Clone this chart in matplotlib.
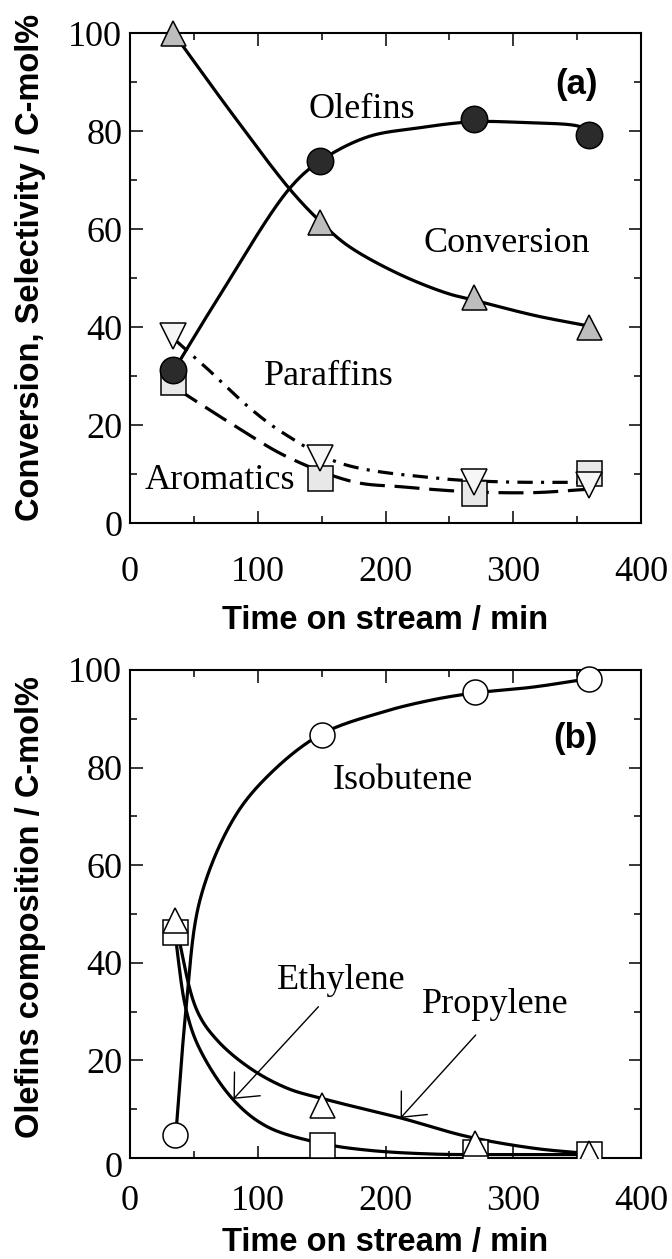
import numpy as np
import matplotlib
matplotlib.use("Agg")
import matplotlib.pyplot as plt
from matplotlib.ticker import MultipleLocator
from matplotlib.transforms import ScaledTranslation

plt.rcParams['font.family'] = ['Liberation Serif', 'DejaVu Serif']
plt.rcParams['lines.scale_dashes'] = False

# ---------------- Panel (a) data ----------------
time_a = [34, 149, 269, 359]
conversion = [100.0, 61.5, 46.2, 40.0]
olefins = [31.2, 73.9, 82.4, 79.2]
paraffins = [38.1, 13.3, 8.4, 7.8]
aromatics = [28.8, 9.2, 6.1, 10.3]

# trend lines
olefins_fit_t = [34.5, 68, 125, 149, 186, 225, 269, 310, 347, 359]
olefins_fit_v = [31.2, 45.5, 68.3, 73.9, 78.8, 80.6, 81.9, 81.7, 81.2, 80.4]
conversion_fit_t = [34, 80, 125.5, 149, 170, 209, 248, 269, 316, 359]
conversion_fit_v = [100, 83.5, 68, 61.5, 56.7, 51, 46.9, 45.5, 42.4, 40.2]
paraffins_fit_t = [36, 58.8, 95.4, 120.3, 164.7, 238, 290, 359]
paraffins_fit_v = [37.2, 31.9, 23.1, 18.3, 12.2, 9.2, 8.4, 8.3]
aromatics_fit_t = [36, 81, 123, 175, 212, 264, 316, 359]
aromatics_fit_v = [27.5, 20, 13.5, 8.4, 7.4, 6.4, 6.2, 6.9]

# ---------------- Panel (b) data ----------------
time_b = [35, 150, 270, 359]
isobutene = [4.7, 86.7, 95.4, 98.1]
ethylene = [46.4, 2.7, 1.3, 0.8]
propylene = [48.8, 10.9, 3.0, 1.0]

isobutene_fit_t = [36.6, 43.8, 54.8, 80.6, 107.2, 148.7, 198, 237, 270, 315.5, 358.5]
isobutene_fit_v = [7.2, 30.3, 52.9, 69.3, 78.1, 86.7, 91.4, 93.9, 95.3, 96.5, 98.2]
ethylene_fit_t = [35, 44, 55, 81, 107.5, 150, 186, 238, 300, 359]
ethylene_fit_v = [46.4, 30.3, 22.1, 11.9, 6.4, 3.0, 1.6, 0.8, 0.7, 0.7]
propylene_fit_t = [35, 52.3, 68, 94, 123, 150, 212, 264, 316, 359]
propylene_fit_v = [48.8, 30.3, 24.2, 18.4, 14.3, 12.2, 8.2, 4.4, 2.0, 0.9]

x_ticks = [0, 100, 200, 300, 400]
y_ticks = [0, 20, 40, 60, 80, 100]

# pixel scale of one data unit (used only to make the spline centripetal on screen)
SX, SY = 511 / 400, 489 / 100


def smooth(xs, ys, n=60):
    """Centripetal Catmull-Rom rendering of a trend line through read points."""
    P = np.column_stack([np.asarray(xs, float) * SX, np.asarray(ys, float) * SY])
    P = np.vstack([2 * P[0] - P[1], P, 2 * P[-1] - P[-2]])
    out = []
    for i in range(1, len(P) - 2):
        p0, p1, p2, p3 = P[i - 1], P[i], P[i + 1], P[i + 2]
        t0 = 0.0
        t1 = t0 + np.linalg.norm(p1 - p0) ** 0.5
        t2 = t1 + np.linalg.norm(p2 - p1) ** 0.5
        t3 = t2 + np.linalg.norm(p3 - p2) ** 0.5
        t = np.linspace(t1, t2, n)[:, None]
        A1 = (t1 - t) / (t1 - t0) * p0 + (t - t0) / (t1 - t0) * p1
        A2 = (t2 - t) / (t2 - t1) * p1 + (t - t1) / (t2 - t1) * p2
        A3 = (t3 - t) / (t3 - t2) * p2 + (t - t2) / (t3 - t2) * p3
        B1 = (t2 - t) / (t2 - t0) * A1 + (t - t0) / (t2 - t0) * A2
        B2 = (t3 - t) / (t3 - t1) * A2 + (t - t1) / (t3 - t1) * A3
        C = (t2 - t) / (t2 - t1) * B1 + (t - t1) / (t2 - t1) * B2
        out.append(C if i == 1 else C[1:])
    C = np.vstack(out)
    return C[:, 0] / SX, C[:, 1] / SY


fig = plt.figure(figsize=(6.72, 12.59), dpi=100)
ax1 = fig.add_axes([130 / 672, 1 - 523 / 1259, 511 / 672, 490 / 1259])
ax2 = fig.add_axes([130 / 672, 1 - 1158 / 1259, 511 / 672, 488 / 1259])

TICK_FS = 26
ANN_FS = 26
LAB_FS = 23.5
LW = 2.3
MEW = 1.1
SANS = ['Liberation Sans', 'DejaVu Sans']

for ax in (ax1, ax2):
    ax.set_xlim(0, 400)
    ax.set_ylim(0, 100)
    ax.set_xticks(x_ticks)
    ax.set_yticks(y_ticks)
    ax.xaxis.set_minor_locator(MultipleLocator(50))
    ax.yaxis.set_minor_locator(MultipleLocator(10))
    ax.tick_params(which='both', direction='in', top=True, right=True,
                   width=1.1, labelsize=TICK_FS)
    ax.tick_params(which='major', length=9)
    ax.tick_params(which='minor', length=5)
    ax.tick_params(axis='y', pad=5.5)
    for s in ax.spines.values():
        s.set_linewidth(1.5)
    ax.set_xlabel('Time on stream / min', fontsize=LAB_FS, fontweight='bold', family=SANS)

ax1.tick_params(axis='x', pad=24)
ax2.tick_params(axis='x', pad=19.5)

ax1.set_ylabel('Conversion, Selectivity / C-mol%', fontsize=LAB_FS, fontweight='bold',
               family=SANS)
ax2.set_ylabel('Olefins composition / C-mol%', fontsize=LAB_FS, fontweight='bold',
               family=SANS)
ax1.yaxis.set_label_coords(-0.165, 0.522)
ax2.yaxis.set_label_coords(-0.165, 0.514)
ax1.xaxis.set_label_coords(0.5, -0.168)
ax2.xaxis.set_label_coords(0.5, -0.142)

# ---------------- Panel (a) ----------------
ax1.plot(*smooth(olefins_fit_t, olefins_fit_v), color='black', lw=LW, zorder=2)
ax1.plot(*smooth(conversion_fit_t, conversion_fit_v), color='black', lw=LW, zorder=2)
ax1.plot(*smooth(paraffins_fit_t, paraffins_fit_v), color='black', lw=LW, zorder=2,
         dashes=(11, 6, 2.2, 6))
ax1.plot(*smooth(aromatics_fit_t, aromatics_fit_v), color='black', lw=LW, zorder=2,
         dashes=(18, 7))

ax1.plot(time_a, aromatics, ls='none', marker='s', ms=18, mfc='#e8e8e8', mec='black',
         mew=MEW, zorder=3)
ax1.plot(time_a, paraffins, ls='none', marker='v', ms=19, mfc='#f6f6f6', mec='black',
         mew=MEW, zorder=4)
ax1.plot(time_a, olefins, ls='none', marker='o', ms=19, mfc='#2b2b2b', mec='black',
         mew=MEW, zorder=5)
ax1.plot(time_a, conversion, ls='none', marker='^', ms=18, mfc='#bdbdbd', mec='black',
         mew=MEW, zorder=5, clip_on=False)

ax1.text(181.7, 84.3, 'Olefins', fontsize=ANN_FS, ha='center', va='center')
ax1.text(294.8, 57.0, 'Conversion', fontsize=ANN_FS, ha='center', va='center')
ax1.text(156, 29.8, 'Paraffins', fontsize=ANN_FS, ha='center', va='center')
ax1.text(70.6, 8.6, 'Aromatics', fontsize=ANN_FS, ha='center', va='center', zorder=6)
ax1.text(366, 89.4, '(a)', fontsize=25, fontweight='bold', ha='right', va='center',
         family=SANS)

# ---------------- Panel (b) ----------------
ax2.plot(*smooth(isobutene_fit_t, isobutene_fit_v), color='black', lw=LW, zorder=2)
ax2.plot(*smooth(ethylene_fit_t, ethylene_fit_v), color='black', lw=LW, zorder=2)
ax2.plot(*smooth(propylene_fit_t, propylene_fit_v), color='black', lw=LW, zorder=2)

ax2.plot(time_b, ethylene, ls='none', marker='s', ms=18, mfc='white', mec='black',
         mew=MEW, zorder=3)
ax2.plot(time_b, propylene, ls='none', marker='^', ms=18, mfc='white', mec='black',
         mew=MEW, zorder=4)
ax2.plot(time_b, isobutene, ls='none', marker='o', ms=18, mfc='white', mec='black',
         mew=MEW, zorder=4, clip_on=False)

ax2.text(213.5, 77.3, 'Isobutene', fontsize=ANN_FS, ha='center', va='center')
ax2.text(165.5, 36.3, 'Ethylene', fontsize=ANN_FS, ha='center', va='center')
ax2.text(286, 31.4, 'Propylene', fontsize=ANN_FS, ha='center', va='center')
ax2.text(366, 85.9, '(b)', fontsize=25, fontweight='bold', ha='right', va='center',
         family=SANS)

arrow = dict(arrowstyle='->,head_length=0.5,head_width=0.45', lw=1.0, color='black',
             shrinkA=0, shrinkB=0, mutation_scale=28)
ax2.annotate('', xy=(81, 12.1), xytext=(147.5, 31.0), arrowprops=arrow)
ax2.annotate('', xy=(211.8, 8.2), xytext=(270.6, 25.2), arrowprops=arrow)

# the "0" on the lower panel's y axis sits slightly below its tick in the original
zero_lab = ax2.yaxis.get_major_ticks()[0].label1
zero_lab.set_transform(zero_lab.get_transform() +
                       ScaledTranslation(0, -5 / 72, fig.dpi_scale_trans))

fig.savefig('out.png', dpi=100)
